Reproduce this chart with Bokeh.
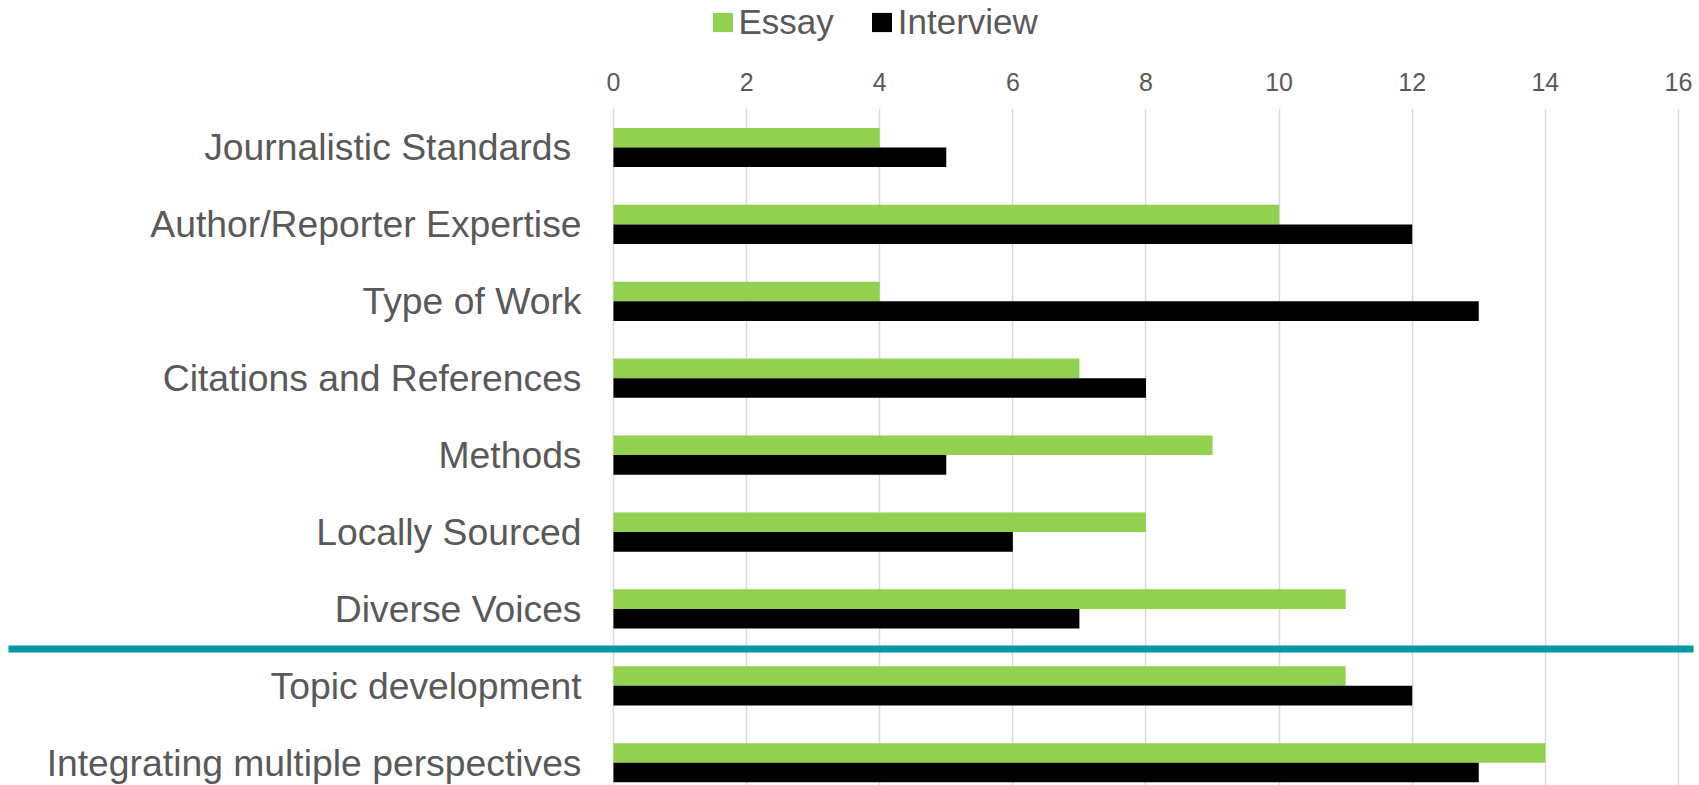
from bokeh.plotting import figure
from bokeh.layouts import column
from bokeh.models import ColumnDataSource, Range1d, FixedTicker, Legend, LegendItem
from bokeh.core.properties import value
from bokeh.embed import file_html
from bokeh.resources import INLINE

# ---- data ----
categories = [
    "Journalistic Standards ",
    "Author/Reporter Expertise",
    "Type of Work",
    "Citations and References",
    "Methods",
    "Locally Sourced",
    "Diverse Voices",
    "Topic development",
    "Integrating multiple perspectives",
]
essay = [4, 10, 4, 7, 9, 8, 11, 11, 14]
interview = [5, 12, 13, 8, 5, 6, 7, 12, 13]
series_names = ["Essay", "Interview"]
x_ticks = [0, 2, 4, 6, 8, 10, 12, 14, 16]
divider_after = "Diverse Voices"

# ---- styles ----
GREEN = "#92D050"
BLACK = "#000000"
TEAL = "#0097A7"
GREY_TXT = "#595959"
FONT = "Liberation Sans"
BAR_H = 0.255
OFF = BAR_H / 2
W = 1699
LEG_H = 54
MAIN_H = 785 - LEG_H

idx = list(range(len(categories)))
src = ColumnDataSource(dict(
    cat=categories,
    ye=[i - OFF for i in idx],
    yi=[i + OFF for i in idx],
    essay=essay,
    interview=interview,
    ylab=idx,
))

# ---- legend strip ----
lg = figure(width=W, height=LEG_H, x_range=Range1d(0, W), y_range=Range1d(0, LEG_H),
            output_backend="svg", toolbar_location=None,
            min_border_left=0, min_border_right=0, min_border_bottom=0, min_border_top=0)
lg.axis.visible = False
lg.grid.grid_line_color = None
lg.outline_line_color = None
# proxy renderers (kept outside the visible range) that only feed the legend
d_e = lg.hbar(y=[-1000], left=[0], right=[1], height=1, fill_color=GREEN, line_color=None)
d_i = lg.hbar(y=[-1000], left=[0], right=[1], height=1, fill_color=BLACK, line_color=None)
legend = Legend(
    items=[LegendItem(label=series_names[0], renderers=[d_e]),
           LegendItem(label=series_names[1], renderers=[d_i])],
    orientation="horizontal",
    location=(709.5, 12),
    glyph_width=25, glyph_height=24,
    label_standoff=4, spacing=35,
    label_text_font=FONT, label_text_font_size="35px", label_text_color=GREY_TXT,
    padding=0, margin=0,
    border_line_color=None, background_fill_alpha=0,
)
lg.add_layout(legend, "center")

# ---- main chart ----
X0, X1 = -9.209, 16.316
p = figure(
    width=W, height=MAIN_H,
    x_range=Range1d(X0, X1),
    y_range=Range1d(8.296, -0.507),
    x_axis_location="above",
    output_backend="svg",
    toolbar_location=None,
    min_border_left=0, min_border_right=0, min_border_bottom=0,
    min_border_top=108 - LEG_H,
)
p.outline_line_color = None
p.yaxis.visible = False
p.ygrid.grid_line_color = None

ax = p.xaxis[0]
ax.ticker = FixedTicker(ticks=x_ticks)
ax.axis_line_color = None
ax.major_tick_line_color = None
ax.minor_tick_line_color = None
ax.major_label_text_font = FONT
ax.major_label_text_font_size = "25px"
ax.major_label_text_color = GREY_TXT
ax.major_label_standoff = 12

p.xgrid.ticker = FixedTicker(ticks=x_ticks)
p.xgrid.grid_line_color = "#D9D9D9"
p.xgrid.grid_line_width = 1.5

p.hbar(y="ye", left=0, right="essay", height=BAR_H, source=src,
       fill_color=GREEN, line_color=None)
p.hbar(y="yi", left=0, right="interview", height=BAR_H, source=src,
       fill_color=BLACK, line_color=None)

p.text(x=-0.48, y="ylab", text="cat", source=src, text_align="right",
       text_baseline="middle", text_font=value(FONT), text_font_size="37.3px",
       text_color=GREY_TXT)

div_y = categories.index(divider_after) + 0.52
p.segment(x0=[-9.089], y0=[div_y], x1=[16.226], y1=[div_y], line_color=TEAL, line_width=7)

layout = column(lg, p, spacing=0)
open("out.html", "w").write(file_html(layout, INLINE))
